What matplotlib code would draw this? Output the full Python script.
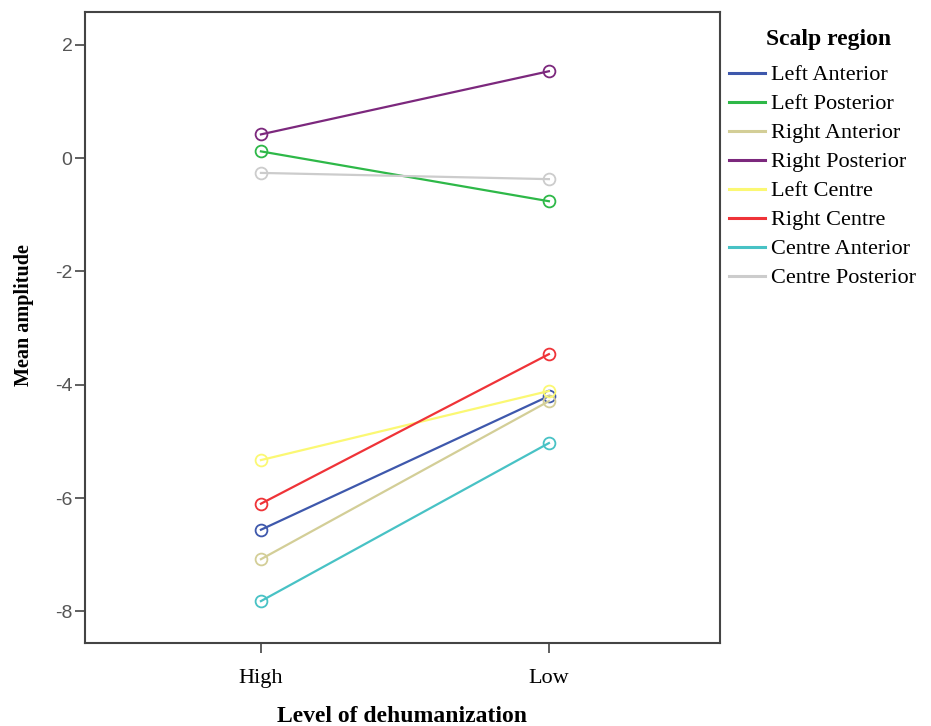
import matplotlib
matplotlib.use("Agg")
from matplotlib import pyplot as plt

# Mean amplitude by level of dehumanization and scalp region
levels = ['High', 'Low']
regions = ['Left Anterior', 'Left Posterior', 'Right Anterior', 'Right Posterior',
           'Left Centre', 'Right Centre', 'Centre Anterior', 'Centre Posterior']
left_anterior = [-6.56, -4.20]
left_posterior = [0.12, -0.76]
right_anterior = [-7.08, -4.29]
right_posterior = [0.42, 1.535]
left_centre = [-5.33, -4.11]
right_centre = [-6.10, -3.46]
centre_anterior = [-7.82, -5.03]
centre_posterior = [-0.26, -0.37]
colors = ['#3E58AC', '#2EB848', '#D3CE97', '#7C287D',
          '#FBF873', '#EF3338', '#48C2C5', '#CCCCCC']

series = [left_anterior, left_posterior, right_anterior, right_posterior,
          left_centre, right_centre, centre_anterior, centre_posterior]

plt.rcParams['font.family'] = ['Liberation Serif', 'DejaVu Serif']

fig = plt.figure(figsize=(9.31, 7.26), dpi=100)
ax = fig.add_axes([0.0913, 0.1143, 0.682, 0.8691])

x = [0, 1]
for name, vals, c in zip(regions, series, colors):
    ax.plot(x, vals, color=c, lw=1.6, marker='o', markersize=8.5,
            markerfacecolor='none', markeredgewidth=1.3, label=name)

ax.set_xlim(-0.611, 1.594)
ax.set_ylim(-8.56, 2.58)
ax.set_xticks(x)
ax.set_xticklabels(levels, fontsize=16)
ax.set_yticks([2, 0, -2, -4, -6, -8])
ax.set_yticklabels(['2', '0', '-2', '-4', '-6', '-8'], fontsize=14,
                   family='Liberation Sans', color='#555555')
ax.tick_params(direction='out', length=7, width=1.2, color='#444444', pad=2)
ax.tick_params(axis='x', pad=12)
for s in ax.spines.values():
    s.set_color('#444444')
    s.set_linewidth(1.5)

ax.set_xlabel('Level of dehumanization', fontsize=17, fontweight='bold', labelpad=13)
# y label sits a bit above the axes centre in the original
fig.text(0.0258, 0.566, 'Mean amplitude', rotation=90, ha='center', va='center',
         fontsize=14.5, fontweight='bold')

# legend title placed on its own, entries below it
fig.text(0.890, 0.946, 'Scalp region', ha='center', va='center',
         fontsize=17, fontweight='bold')
leg = fig.legend(loc='upper left', bbox_to_anchor=(0.783, 0.9108), frameon=False,
                 borderpad=0, borderaxespad=0, fontsize=16, handlelength=1.6,
                 handletextpad=0.3, labelspacing=0.38)
for h in leg.get_lines():
    h.set_marker('')
    h.set_linewidth(2.2)

fig.savefig('out.png', dpi=100)
